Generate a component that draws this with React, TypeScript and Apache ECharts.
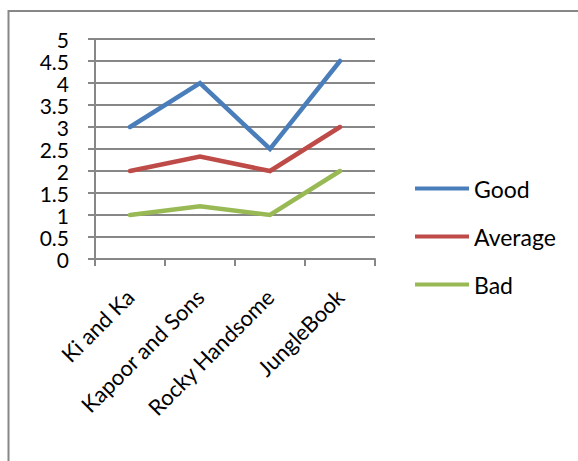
import React, { useEffect, useRef } from "react";
import * as echarts from "echarts";

const categories = ["Ki and Ka", "Kapoor and Sons", "Rocky Handsome", "JungleBook"];
const goodValues = [3, 4, 2.5, 4.5];
const averageValues = [2, 2.33, 2, 3];
const badValues = [1, 1.2, 1, 2];
const yTickLabels = ["0", "0.5", "1", "1.5", "2", "2.5", "3", "3.5", "4", "4.5", "5"];

const FONT = "Lato";
const GRAY = "#878787";

export default function App() {
  const ref = useRef<HTMLDivElement>(null);
  useEffect(() => {
    if (!ref.current) return;
    const chart = echarts.init(ref.current, undefined, { renderer: "svg" });
    const mkSeries = (name: string, data: number[], color: string) => ({
      name,
      type: "line",
      data,
      symbol: "none",
      lineStyle: { color, width: 4.5, cap: "round", join: "miter" },
      itemStyle: { color },
    });
    chart.setOption({
      animation: false,
      backgroundColor: "#ffffff",
      textStyle: { fontFamily: FONT },
      graphic: [
        {
          type: "rect",
          shape: { x: 8.5, y: 11, width: 600, height: 500 },
          style: { fill: "none", stroke: GRAY, lineWidth: 2 },
          z: -10,
        },
      ],
      grid: { left: 95, right: 203, top: 39, bottom: 202, containLabel: false },
      legend: {
        orient: "vertical",
        left: 410,
        top: 170,
        itemGap: 21,
        itemWidth: 54,
        itemHeight: 4,
        icon: "rect",
        textStyle: { fontFamily: FONT, fontSize: 23, lineHeight: 27, color: "#000" },
        data: ["Good", "Average", "Bad"],
      },
      xAxis: {
        type: "category",
        data: categories,
        boundaryGap: true,
        axisLine: { lineStyle: { color: GRAY, width: 2 } },
        axisTick: { show: true, length: 7, inside: false, lineStyle: { color: GRAY, width: 2 } },
        axisLabel: {
          rotate: 45,
          margin: 34,
          fontFamily: FONT,
          fontSize: 22,
          color: "#000",
          interval: 0,
        },
      },
      yAxis: {
        type: "value",
        min: 0,
        max: 5,
        interval: 0.5,
        axisLine: { show: true, lineStyle: { color: GRAY, width: 2 } },
        axisTick: { show: true, length: 7, lineStyle: { color: GRAY, width: 2 } },
        splitLine: { show: true, lineStyle: { color: GRAY, width: 2 } },
        axisLabel: {
          margin: 26,
          fontFamily: FONT,
          fontSize: 21,
          lineHeight: 20,
          color: "#000",
          hideOverlap: false,
          formatter: (v: number) => {
            const i = Math.round(v * 2);
            return yTickLabels[i] ?? String(v);
          },
        },
      },
      series: [
        mkSeries("Good", goodValues, "#4A7EBB"),
        mkSeries("Average", averageValues, "#BE4B48"),
        mkSeries("Bad", badValues, "#98B954"),
      ],
    });
    return () => chart.dispose();
  }, []);
  return (
    <div
      ref={ref}
      style={{ position: "fixed", left: 0, top: 0, width: 578, height: 461 }}
    />
  );
}
